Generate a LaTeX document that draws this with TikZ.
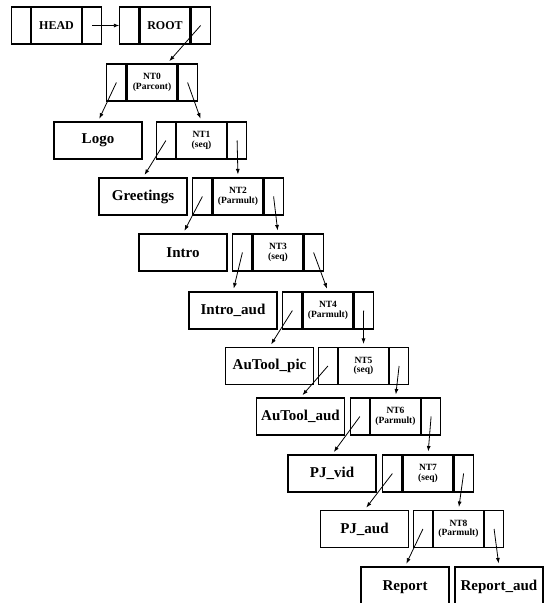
\documentclass[tikz,border=0pt]{standalone}
\usepackage{fontspec}
\setmainfont{Liberation Serif}
\usepackage{tikz}
\usetikzlibrary{arrows.meta,positioning,calc}
\tikzset{
  box/.style={draw,line width=1.1pt,inner sep=0pt,minimum height=37pt,align=center},
  leaf/.style={box,minimum width=88pt,font=\fontsize{15}{15}\selectfont\bfseries},
  mid/.style={box,minimum width=50pt,font=\fontsize{9.5}{9.5}\selectfont\bfseries},
  top/.style={mid,font=\fontsize{12}{12}\selectfont\bfseries},
  cell/.style={box,minimum width=19pt},
  link/.style={-{Latex[length=5.5pt,width=4pt]},line width=0.8pt,shorten >=3pt}
}
% three-cell record: name, position, style, label
\newcommand{\rec}[4]{%
  \node[#3] (#1) at (#2) {#4};
  \node[cell,left=0pt of #1] (#1l) {};
  \node[cell,right=0pt of #1] (#1r) {};
}

\begin{document}
\begin{tikzpicture}[x=1pt,y=-1pt]
  \useasboundingbox (0,0) rectangle (551,603);
  % head and root
  \rec{head}{56.5,25.5}{top}{HEAD}
  \rec{root}{165,25.5}{top}{ROOT}
  % inner nodes
  \rec{nt0}{152,82.5}{mid}{NT0\\(Parcont)}
  \rec{nt1}{201.5,140.5}{mid}{NT1\\(seq)}
  \rec{nt2}{238,196.5}{mid}{NT2\\(Parmult)}
  \rec{nt3}{278,252.5}{mid}{NT3\\(seq)}
  \rec{nt4}{328,310.5}{mid}{NT4\\(Parmult)}
  \rec{nt5}{363.5,366}{mid}{NT5\\(seq)}
  \rec{nt6}{395.5,416.5}{mid}{NT6\\(Parmult)}
  \rec{nt7}{428,473.5}{mid}{NT7\\(seq)}
  \rec{nt8}{458.5,529}{mid}{NT8\\(Parmult)}
  % leaves
  \node[leaf] (logo) at (98,140.5) {Logo};
  \node[leaf] (greet) at (143,196.5) {Greetings};
  \node[leaf] (intro) at (183,252.5) {Intro};
  \node[leaf] (introaud) at (233,310.5) {Intro\_aud};
  \node[leaf] (toolpic) at (269.5,366) {AuTool\_pic};
  \node[leaf] (toolaud) at (300.5,416.5) {AuTool\_aud};
  \node[leaf] (pjvid) at (332,473.5) {PJ\_vid};
  \node[leaf] (pjaud) at (364.5,529) {PJ\_aud};
  \node[leaf,minimum height=40pt] (report) at (405,587) {Report};
  \node[leaf,minimum height=40pt] (reportaud) at (499,587) {Report\_aud};
  % links
  \draw[link,shorten >=0pt] (headr.center) -- (rootl.west);
  \draw[link] (rootr.center) -- ($(nt0.north)!0.6!(nt0.north east)$);
  \draw[link] (nt0l.center) -- (logo.north);
  \draw[link] (nt0r.center) -- (nt1.north);
  \draw[link] (nt1l.center) -- (greet.north);
  \draw[link] (nt1r.center) -- (nt2.north);
  \draw[link] (nt2l.center) -- (intro.north);
  \draw[link] (nt2r.center) -- (nt3.north);
  \draw[link] (nt3l.center) -- (introaud.north);
  \draw[link] (nt3r.center) -- (nt4.north);
  \draw[link] (nt4l.center) -- (toolpic.north);
  \draw[link] (nt4r.center) -- (nt5.north);
  \draw[link] (nt5l.center) -- (toolaud.north);
  \draw[link] (nt5r.center) -- (nt6.north);
  \draw[link] (nt6l.center) -- (pjvid.north);
  \draw[link] (nt6r.center) -- (nt7.north);
  \draw[link] (nt7l.center) -- (pjaud.north);
  \draw[link] (nt7r.center) -- (nt8.north);
  \draw[link] (nt8l.center) -- (report.north);
  \draw[link] (nt8r.center) -- (reportaud.north);
\end{tikzpicture}
\end{document}
